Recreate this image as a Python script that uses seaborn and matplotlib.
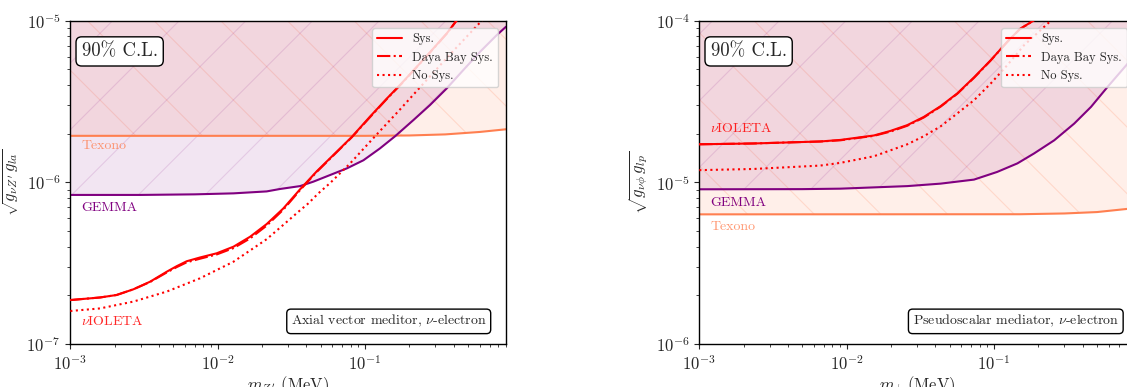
import matplotlib
matplotlib.use("Agg")
import matplotlib.pyplot as plt
import seaborn as sns

# all sizes below are written for a 100 dpi layout, the figure is saved at 200 dpi
S = 0.5

# ---- axial vector mediator (left panel) ----
av_sys_m = [1.00e-3, 1.59e-3, 2.06e-3, 2.68e-3, 3.48e-3, 4.51e-3, 5.27e-3, 6.16e-3, 7.59e-3,
            9.84e-3, 1.28e-2, 1.66e-2, 2.15e-2, 2.79e-2, 3.62e-2, 4.70e-2, 5.79e-2, 8.13e-2,
            0.108, 0.141, 0.177, 0.255, 0.359, 0.417, 0.47]
av_sys_g = [1.87e-7, 1.94e-7, 2.01e-7, 2.18e-7, 2.43e-7, 2.80e-7, 3.03e-7, 3.25e-7, 3.43e-7,
            3.64e-7, 4.00e-7, 4.61e-7, 5.52e-7, 6.90e-7, 9.05e-7, 1.17e-6, 1.41e-6, 1.91e-6,
            2.55e-6, 3.31e-6, 4.10e-6, 5.89e-6, 8.36e-6, 1.00e-5, 1.15e-5]
av_db_g = [1.87e-7, 1.94e-7, 2.01e-7, 2.18e-7, 2.42e-7, 2.77e-7, 2.99e-7, 3.20e-7, 3.37e-7,
           3.58e-7, 3.92e-7, 4.50e-7, 5.40e-7, 6.78e-7, 8.95e-7, 1.16e-6, 1.40e-6, 1.90e-6,
           2.53e-6, 3.29e-6, 4.08e-6, 5.87e-6, 8.33e-6, 1.00e-5, 1.15e-5]
av_nosys_m = [1.00e-3, 1.59e-3, 2.68e-3, 4.51e-3, 7.59e-3, 1.28e-2, 2.15e-2, 2.77e-2, 3.53e-2,
              4.12e-2, 4.82e-2, 5.79e-2, 7.92e-2, 0.117, 0.173, 0.262, 0.398, 0.619, 0.68]
av_nosys_g = [1.60e-7, 1.66e-7, 1.83e-7, 2.11e-7, 2.55e-7, 3.23e-7, 4.45e-7, 5.43e-7, 6.58e-7,
              7.41e-7, 8.55e-7, 9.90e-7, 1.31e-6, 1.93e-6, 2.83e-6, 4.30e-6, 6.52e-6, 1.00e-5, 1.10e-5]
av_gemma_m = [1.00e-3, 3.0e-3, 7.0e-3, 1.28e-2, 2.15e-2, 2.65e-2, 3.62e-2, 4.46e-2, 5.79e-2,
              7.52e-2, 9.75e-2, 0.126, 0.160, 0.213, 0.276, 0.359, 0.465, 0.604, 0.783, 0.905]
av_gemma_g = [8.36e-7, 8.36e-7, 8.43e-7, 8.55e-7, 8.79e-7, 9.10e-7, 9.48e-7, 1.01e-6, 1.11e-6,
              1.22e-6, 1.37e-6, 1.62e-6, 1.93e-6, 2.43e-6, 3.01e-6, 3.82e-6, 4.96e-6, 6.43e-6,
              8.15e-6, 9.18e-6]
av_texono_m = [1.00e-3, 0.1, 0.2, 0.35, 0.6, 0.905]
av_texono_g = [1.94e-6, 1.94e-6, 1.95e-6, 1.98e-6, 2.05e-6, 2.13e-6]

# ---- pseudoscalar mediator (right panel) ----
ps_sys_m = [1.00e-3, 2.33e-3, 6.62e-3, 9.06e-3, 1.53e-2, 1.98e-2, 2.58e-2, 3.34e-2, 4.34e-2,
            5.63e-2, 7.31e-2, 9.50e-2, 0.123, 0.150, 0.185, 0.20]
ps_sys_g = [1.72e-5, 1.74e-5, 1.79e-5, 1.83e-5, 1.95e-5, 2.08e-5, 2.26e-5, 2.54e-5, 2.96e-5,
            3.55e-5, 4.46e-5, 5.70e-5, 7.41e-5, 8.90e-5, 1.00e-4, 1.08e-4]
ps_db_g = [1.72e-5, 1.74e-5, 1.79e-5, 1.82e-5, 1.94e-5, 2.06e-5, 2.24e-5, 2.52e-5, 2.94e-5,
           3.53e-5, 4.43e-5, 5.68e-5, 7.39e-5, 8.88e-5, 1.00e-4, 1.08e-4]
ps_nosys_m = [1.00e-3, 2.33e-3, 6.62e-3, 9.06e-3, 1.53e-2, 2.58e-2, 3.34e-2, 4.34e-2, 5.63e-2,
              7.31e-2, 9.50e-2, 0.123, 0.160, 0.243, 0.27]
ps_nosys_g = [1.19e-5, 1.21e-5, 1.27e-5, 1.32e-5, 1.45e-5, 1.72e-5, 1.93e-5, 2.22e-5, 2.67e-5,
              3.22e-5, 4.09e-5, 5.31e-5, 7.06e-5, 1.00e-4, 1.08e-4]
ps_gemma_m = [1.00e-3, 5.0e-3, 9.06e-3, 2.58e-2, 4.34e-2, 7.31e-2, 0.105, 0.144, 0.187, 0.256,
              0.350, 0.455, 0.590, 0.810, 0.910]
ps_gemma_g = [9.06e-6, 9.08e-6, 9.14e-6, 9.48e-6, 9.82e-6, 1.04e-5, 1.16e-5, 1.31e-5, 1.51e-5,
              1.82e-5, 2.31e-5, 2.93e-5, 3.90e-5, 5.45e-5, 6.30e-5]
ps_texono_m = [1.00e-3, 0.15, 0.3, 0.5, 0.8, 0.91]
ps_texono_g = [6.34e-6, 6.35e-6, 6.42e-6, 6.55e-6, 6.85e-6, 6.95e-6]

sns.set_style("ticks")
plt.rcParams.update({
    "font.family": "serif",
    "font.serif": ["cmr10"],
    "mathtext.fontset": "cm",
    "axes.formatter.use_mathtext": True,
    "axes.unicode_minus": False,
    "font.size": 12 * S,
    "axes.labelsize": 12 * S,
    "xtick.labelsize": 12 * S,
    "ytick.labelsize": 12 * S,
    "axes.linewidth": 1.0 * S,
    "axes.edgecolor": "black",
    "xtick.major.size": 3.5 * S, "ytick.major.size": 3.5 * S,
    "xtick.minor.size": 2.0 * S, "ytick.minor.size": 2.0 * S,
    "xtick.major.width": 0.8 * S, "ytick.major.width": 0.8 * S,
    "xtick.minor.width": 0.6 * S, "ytick.minor.width": 0.6 * S,
    "xtick.major.pad": 3.5 * S, "ytick.major.pad": 3.5 * S,
    "axes.labelpad": 4 * S,
    "hatch.linewidth": 0.4,
})

coral = (1.0, 127 / 255, 80 / 255)
purple = (128 / 255, 0.0, 128 / 255)


def panel(ax, sys_m, sys_g, db_g, nosys_m, nosys_g, gem_m, gem_g, tex_m, tex_g,
          ylim, xlabel, ylabel, note, note_x, lab_y):
    ax.set_xscale("log")
    ax.set_yscale("log")

    ax.fill_between(tex_m, tex_g, 1.0, facecolor=coral + (0.12,), edgecolor=coral + (0.20,),
                    hatch="\\", linewidth=0, zorder=1)
    ax.fill_between(gem_m, gem_g, 1.0, facecolor=purple + (0.10,), edgecolor=purple + (0.12,),
                    hatch="/", linewidth=0, zorder=1)

    sns.lineplot(x=tex_m, y=tex_g, ax=ax, color=coral, lw=1.5 * S, estimator=None, sort=False, zorder=2)
    sns.lineplot(x=gem_m, y=gem_g, ax=ax, color=purple, lw=1.5 * S, estimator=None, sort=False, zorder=2)

    l1 = sns.lineplot(x=sys_m, y=sys_g, ax=ax, color="red", lw=1.5 * S, estimator=None,
                      sort=False, zorder=3).lines[-1]
    l2 = sns.lineplot(x=sys_m, y=db_g, ax=ax, color="red", lw=1.5 * S, ls="-.", estimator=None,
                      sort=False, zorder=3).lines[-1]
    l3 = sns.lineplot(x=nosys_m, y=nosys_g, ax=ax, color="red", lw=1.5 * S, ls=":", estimator=None,
                      sort=False, zorder=3).lines[-1]

    ax.set_xlim(1e-3, 0.9)
    ax.set_ylim(*ylim)
    ax.set_xlabel(xlabel, labelpad=1 * S)
    ax.set_ylabel(ylabel)

    ax.legend([l1, l2, l3], ["Sys.", "Daya Bay Sys.", "No Sys."], loc="upper right",
              fontsize=9 * S, frameon=True, fancybox=True, framealpha=0.8, edgecolor="0.8",
              borderaxespad=0.6)
    ax.get_legend().get_frame().set_linewidth(1.0 * S)

    box = dict(boxstyle="round,pad=0.3", fc="white", ec="black", lw=1.0 * S)
    ax.text(0.026, 0.905, "90% C.L.", transform=ax.transAxes, fontsize=13.5 * S,
            ha="left", va="center", bbox=box)
    ax.text(note_x, 0.07, note, transform=ax.transAxes, fontsize=10 * S,
            ha="right", va="center", bbox=box)

    for name, col, yv in lab_y:
        ax.text(1.19e-3, yv, name, color=col, fontsize=10 * S, ha="left", va="center")


fig = plt.figure(figsize=(1127 / 200, 387 / 200), dpi=200)
ax1 = fig.add_axes([0.0624, 0.1111, 0.3863, 0.8354])
ax2 = fig.add_axes([0.6205, 0.1111, 0.3863, 0.8354])

panel(ax1, av_sys_m, av_sys_g, av_db_g, av_nosys_m, av_nosys_g, av_gemma_m, av_gemma_g,
      av_texono_m, av_texono_g, (1e-7, 1e-5), r"$m_{Z'}$ (MeV)", r"$\sqrt{g_{\nu Z'}\, g_{la}}$",
      r"Axial vector meditor, $\nu$-electron", 0.956,
      [("Texono", coral + (0.8,), 1.69e-6), ("GEMMA", purple, 6.9e-7),
       (r"$\nu$IOLETA", (1, 0, 0, 0.85), 1.37e-7)])

panel(ax2, ps_sys_m, ps_sys_g, ps_db_g, ps_nosys_m, ps_nosys_g, ps_gemma_m, ps_gemma_g,
      ps_texono_m, ps_texono_g, (1e-6, 1e-4), r"$m_\phi$ (MeV)", r"$\sqrt{g_{\nu\phi}\, g_{lp}}$",
      r"Pseudoscalar mediator, $\nu$-electron", 0.964,
      [(r"$\nu$IOLETA", (1, 0, 0, 0.85), 2.15e-5), ("GEMMA", purple, 7.48e-6),
       ("Texono", coral + (0.8,), 5.28e-6)])

fig.savefig("out.png", dpi=200)
